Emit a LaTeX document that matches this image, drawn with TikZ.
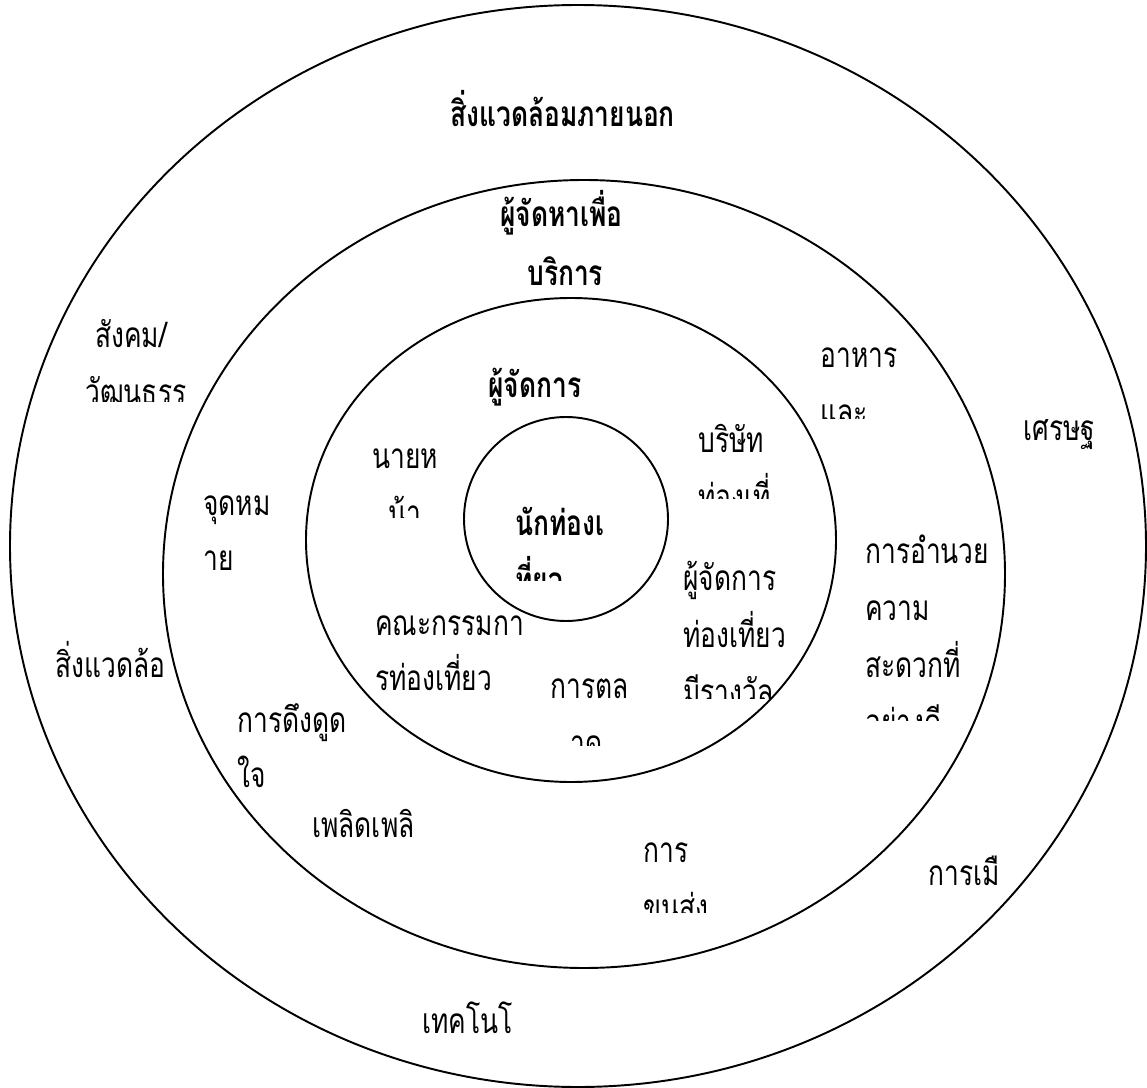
\documentclass[tikz,border=0pt]{standalone}
\usepackage{fontspec}
\newfontfamily\thaifont[Script=Thai,FakeStretch=0.75]{Loma}
\begin{document}
\begin{tikzpicture}[
      x=0.02cm, y=-0.02cm,
      ring/.style={draw=black, line width=1.1pt},
      lbl/.style={anchor=base west, inner sep=0pt, font=\thaifont\fontsize{20}{20}\selectfont},
      hdr/.style={anchor=base west, inner sep=0pt, font=\thaifont\bfseries\fontsize{20}{20}\selectfont}
  ]
      \useasboundingbox (0,0) rectangle (1147,1088);

      % Rings
      \draw[ring] (578,546) ellipse [x radius=568, y radius=541];
      \draw[ring] (584,574) ellipse [x radius=421, y radius=394];
      \draw[ring] (571,540) ellipse [x radius=265, y radius=242];
      \draw[ring] (566,519) circle [radius=102];

      % Outer ring
      \node[hdr] (outer) at (450,127) {สิ่งแวดล้อมภายนอก};
      \node[lbl] (soc1) at (95,347) {สังคม/};
      \begin{scope}
        \clip (60,360) rectangle (220,401);
        \node[lbl] (soc2) at (85,404) {วัฒนธรร};
      \end{scope}
      \node[lbl] (eco) at (1023,440) {เศรษฐ};
      \node[lbl] (env) at (55,677) {สิ่งแวดล้อ};
      \node[lbl] (pol) at (928,885) {การเมื};
      \node[lbl] (tech) at (422,1033) {เทคโนโ};

      % Middle ring
      \node[hdr] (supp1) at (500,227) {ผู้จัดหาเพื่อ};
      \node[hdr] (supp2) at (527,285) {บริการ};
      \node[lbl] (food1) at (820,367) {อาหาร};
      \begin{scope}
        \clip (800,385) rectangle (920,418);
        \node[lbl] (food2) at (820,424) {และ};
      \end{scope}
      \node[lbl] (dest1) at (203,515) {จุดหม};
      \node[lbl] (dest2) at (203,570) {าย};
      \node[lbl] (fac1) at (865,563) {การอำนวย};
      \node[lbl] (fac2) at (865,620) {ความ};
      \node[lbl] (fac3) at (865,677) {สะดวกที่};
      \begin{scope}
        \clip (850,700) rectangle (990,720);
        \node[lbl] (fac4) at (865,734) {อย่างดี};
      \end{scope}
      \node[lbl] (attr1) at (237,732) {การดึงดูด};
      \node[lbl] (attr2) at (237,787) {ใจ};
      \node[lbl] (fun) at (312,837) {เพลิดเพลิ};
      \node[lbl] (trans1) at (643,862) {การ};
      \begin{scope}
        \clip (620,880) rectangle (720,912);
        \node[lbl] (trans2) at (643,919) {ขนส่ง};
      \end{scope}

      % Inner ring
      \node[hdr] (mgr) at (488,397) {ผู้จัดการ};
      \node[lbl] (agent1) at (372,468) {นายห};
      \begin{scope}
        \clip (360,485) rectangle (450,517);
        \node[lbl] (agent2) at (388,525) {น้า};
      \end{scope}
      \node[lbl] (tour1) at (698,452) {บริษัท};
      \begin{scope}
        \clip (680,470) rectangle (790,498);
        \node[lbl] (tour2) at (698,509) {ท่องเที่};
      \end{scope}
      \node[lbl] (guide1) at (683,590) {ผู้จัดการ};
      \node[lbl] (guide2) at (683,647) {ท่องเที่ยว};
      \begin{scope}
        \clip (670,665) rectangle (800,698);
        \node[lbl] (guide3) at (683,704) {มีรางวัล};
      \end{scope}
      \node[lbl] (board1) at (375,635) {คณะกรรมกา};
      \node[lbl] (board2) at (375,690) {รท่องเที่ยว};
      \node[lbl] (mkt1) at (550,698) {การตล};
      \begin{scope}
        \clip (540,720) rectangle (640,745);
        \node[lbl] (mkt2) at (570,755) {าด};
      \end{scope}

      % Centre
      \node[hdr] (tourist1) at (515,535) {นักท่องเ};
      \begin{scope}
        \clip (500,550) rectangle (630,580);
        \node[hdr] (tourist2) at (515,592) {ที่ยว};
      \end{scope}
  \end{tikzpicture}
\end{document}
